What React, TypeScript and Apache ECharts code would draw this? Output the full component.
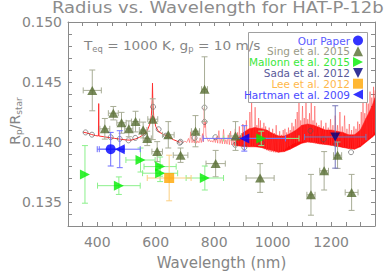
import React, { useEffect, useRef } from "react";
import * as echarts from "echarts";

// ---------- data ----------
const singWl = [383, 426, 455, 483, 508, 531, 557, 571, 590, 605, 643, 685, 736, 767, 805, 873, 957, 1131, 1176, 1222, 1270];
const singR = [0.1443, 0.1411, 0.1424, 0.1416, 0.1411, 0.1417, 0.1410, 0.1403, 0.1419, 0.1392, 0.1406, 0.1389, 0.1409, 0.1444, 0.1382, 0.1405, 0.1370, 0.1356, 0.1376, 0.1389, 0.1358];
const singWlErr = [31, 17, 17, 16, 14, 14, 13, 14, 17, 18, 20, 25, 14, 10, 33, 20, 48, 14, 15, 14, 22];
const singRErr = [0.0017, 0.00086, 0.00056, 0.00087, 0.00066, 0.00086, 0.00066, 0.0006, 0.0017, 0.00083, 0.0011, 0.0006, 0.0013, 0.0027, 0.0011, 0.0012, 0.0012, 0.0017, 0.0016, 0.0011, 0.0015];

const oursWl = [446];
const oursR = [0.1394];
const oursWlErr = [46];
const oursRErr = [0.0014];

const mallonnWl = [358, 474, 548, 615, 615, 768, 961];
const mallonnR = [0.1373, 0.13636, 0.1385, 0.13795, 0.1374, 0.1370, 0.1403];
const mallonnWlErr = [0, 73, 50, 55, 60, 64, 129];
const mallonnRErr = [0.0024, 0.00073, 0.001, 0.0008, 0.0007, 0.001, 0.0006];

const sadaWl = [1214];
const sadaR = [0.14042];
const sadaWlErr = [105];
const sadaRErr = [0.0026];

const leeWl = [646];
const leeR = [0.137];
const leeWlErr = [75];
const leeRErr = [0.0019];

const hartmanWl = [477, 903];
const hartmanR = [0.1394, 0.1403];
const hartmanWlErr = [70, 141];
const hartmanRErr = [0.00154, 0.00106];

// binned model (open circles)
const binWl = [360, 382, 446, 477, 507, 530, 559, 591, 610, 635, 682, 685, 733, 767, 767, 804, 872, 903, 963, 1129, 1174, 1217, 1268];
const binR = [0.1408, 0.14061, 0.1404, 0.14026, 0.14014, 0.14034, 0.14074, 0.14293, 0.14106, 0.14053, 0.13994, 0.14002, 0.14034, 0.14287, 0.14167, 0.1404, 0.13976, 0.13955, 0.13994, 0.14093, 0.14022, 0.13982, 0.13915];

// smooth model (short wavelengths)
const modelSmooth: [number, number][] = [
  [352, 0.14082], [365, 0.14075], [380, 0.14063], [395, 0.14053], [404, 0.1405], [405, 0.1432], [406, 0.1405],
  [420, 0.14045], [440, 0.14037], [460, 0.1403], [480, 0.14023], [500, 0.14017], [515, 0.14015], [530, 0.14025],
  [545, 0.1404], [560, 0.14065], [572, 0.141], [580, 0.1415], [585, 0.1422], [588, 0.1435], [589, 0.1449],
  [590, 0.1435], [593, 0.1422], [600, 0.1413], [610, 0.14085], [625, 0.14065], [640, 0.1405], [660, 0.1402], [682, 0.13998],
];

// high-resolution model spikes (long wavelengths)
const modelHiRes: [number, number][] = [
  [682, 0.13998], [688, 0.14005], [694, 0.13995], [700, 0.14008], [706, 0.13996], [712, 0.1403], [716, 0.13995], [720, 0.14085],
  [724, 0.13994], [728, 0.1402], [732, 0.13992], [736, 0.1406], [740, 0.1399], [744, 0.1401], [748, 0.13992], [752, 0.14035],
  [756, 0.13995], [760, 0.1407], [763, 0.14], [766, 0.14287], [768, 0.1412], [770, 0.14167], [772, 0.1405], [776, 0.1403],
  [780, 0.14005], [784, 0.1402], [788, 0.14], [792, 0.14012], [796, 0.13998], [800, 0.14025], [804, 0.13995], [808, 0.14045],
  [812, 0.1399], [816, 0.14095], [820, 0.13988], [824, 0.1403], [828, 0.13985], [832, 0.14105], [836, 0.13984], [840, 0.1402],
  [844, 0.13982], [848, 0.1406], [852, 0.13978], [856, 0.1409], [860, 0.13975], [864, 0.1404], [868, 0.13972], [872, 0.1411],
  [876, 0.1397], [880, 0.1408], [883, 0.13968], [886, 0.1413], [889, 0.13966], [892, 0.1406], [895, 0.13965], [898, 0.1415],
  [901, 0.13964], [904, 0.1409], [907, 0.13963], [910, 0.1418], [913, 0.13962], [916, 0.1411], [919, 0.13962], [922, 0.1425],
  [925, 0.13963], [928, 0.1433], [931, 0.13965], [934, 0.1412], [937, 0.13966], [940, 0.1429], [943, 0.13968], [946, 0.1414],
  [949, 0.13968], [952, 0.142], [955, 0.13965], [958, 0.1418], [961, 0.13958], [964, 0.1412], [967, 0.1395], [970, 0.1416],
  [973, 0.1394], [976, 0.1413], [979, 0.13932], [982, 0.1410], [985, 0.13925], [988, 0.1412], [991, 0.1392], [994, 0.1408],
  [997, 0.13917], [1000, 0.1411], [1003, 0.13915], [1006, 0.14075], [1009, 0.13913], [1012, 0.1414], [1015, 0.13913], [1018, 0.1406],
  [1021, 0.13915], [1024, 0.1409], [1027, 0.13918], [1030, 0.1406], [1033, 0.13925], [1036, 0.1410], [1039, 0.13935], [1042, 0.1411],
  [1045, 0.13945], [1048, 0.1408], [1051, 0.13955], [1054, 0.1412], [1057, 0.13965], [1060, 0.1410], [1063, 0.13975], [1066, 0.1416],
  [1069, 0.13985], [1072, 0.1413], [1075, 0.1399], [1078, 0.1419], [1081, 0.13995], [1084, 0.1425], [1087, 0.13998], [1090, 0.1437],
  [1093, 0.14], [1096, 0.1418], [1099, 0.14002], [1102, 0.143], [1105, 0.14003], [1108, 0.142], [1111, 0.14002], [1114, 0.1435],
  [1117, 0.14], [1120, 0.1419], [1123, 0.13998], [1126, 0.1424], [1129, 0.13995], [1132, 0.1433], [1135, 0.13992], [1138, 0.1418],
  [1141, 0.1399], [1144, 0.143], [1147, 0.13988], [1150, 0.1416], [1154, 0.13985], [1158, 0.1414], [1162, 0.13982], [1166, 0.1418],
  [1170, 0.1398], [1174, 0.1413], [1178, 0.13978], [1182, 0.1416], [1186, 0.13976], [1190, 0.1412], [1194, 0.13975], [1198, 0.1419],
  [1202, 0.13974], [1206, 0.1414], [1210, 0.13972], [1214, 0.1422], [1218, 0.1397], [1222, 0.1414], [1226, 0.13966], [1230, 0.1425],
  [1234, 0.13962], [1238, 0.1413], [1242, 0.13958], [1246, 0.1422], [1250, 0.13952], [1254, 0.1411], [1258, 0.13948], [1262, 0.1415],
  [1266, 0.13944], [1270, 0.1410], [1274, 0.13942], [1278, 0.1413], [1282, 0.13945], [1285, 0.1411], [1288, 0.13955], [1291, 0.1417],
  [1294, 0.13965], [1297, 0.1415], [1300, 0.13975], [1303, 0.1425], [1306, 0.13985], [1309, 0.1435], [1312, 0.13995], [1315, 0.1424],
  [1318, 0.14005], [1321, 0.1438], [1324, 0.14015], [1327, 0.1432], [1330, 0.1403], [1333, 0.1442], [1336, 0.14045], [1339, 0.1437],
  [1342, 0.1406], [1345, 0.1446], [1348, 0.1408], [1350, 0.1443],
];

// dense core of the high-resolution model: wavelength, lower and upper edge
const bandWl = [870, 885, 900, 920, 940, 960, 980, 1000, 1020, 1040, 1060, 1080, 1100, 1120, 1140, 1160, 1180, 1200, 1220, 1240, 1260, 1280, 1300, 1320, 1340, 1350];
const bandLow = [0.1397, 0.13967, 0.13962, 0.1396, 0.1396, 0.13955, 0.1394, 0.1393, 0.13915, 0.1392, 0.1394, 0.13965, 0.1399, 0.14, 0.13995, 0.13985, 0.1398, 0.13972, 0.13965, 0.13955, 0.13945, 0.1394, 0.1396, 0.14, 0.1404, 0.1406];
const bandHigh = [0.13995, 0.1404, 0.1408, 0.1411, 0.1412, 0.1411, 0.141, 0.1407, 0.1405, 0.1405, 0.1407, 0.141, 0.1414, 0.1415, 0.1414, 0.1412, 0.141, 0.141, 0.1409, 0.1408, 0.1406, 0.1406, 0.141, 0.142, 0.143, 0.1437];

const xTickLabels = [400, 600, 800, 1000, 1200];
const yTickLabels = [0.135, 0.14, 0.145, 0.15];

const FONT = "DejaVu Sans";
const GRAY = "#858585";

function pts(wl: number[], r: number[]) {
  return wl.map((w, i) => [w, r[i]]);
}
function errPts(wl: number[], r: number[], we: number[], re: number[]) {
  return wl.map((w, i) => [w, r[i], we[i], re[i]]);
}

function errSeries(data: number[][], color: string) {
  return {
    type: "custom",
    silent: true,
    clip: true,
    data,
    z: 3,
    renderItem: (params: any, api: any) => {
      const x = api.value(0), y = api.value(1), xe = api.value(2), ye = api.value(3);
      const c = api.coord([x, y]);
      const children: any[] = [];
      const st = { stroke: color, lineWidth: 1 };
      const cap = 3;
      if (ye > 0) {
        const t = api.coord([x, y + ye]);
        const b = api.coord([x, y - ye]);
        children.push({ type: "line", shape: { x1: c[0], y1: t[1], x2: c[0], y2: b[1] }, style: st });
        children.push({ type: "line", shape: { x1: c[0] - cap, y1: t[1], x2: c[0] + cap, y2: t[1] }, style: st });
        children.push({ type: "line", shape: { x1: c[0] - cap, y1: b[1], x2: c[0] + cap, y2: b[1] }, style: st });
      }
      if (xe > 0) {
        const l = api.coord([x - xe, y]);
        const r = api.coord([x + xe, y]);
        children.push({ type: "line", shape: { x1: l[0], y1: c[1], x2: r[0], y2: c[1] }, style: st });
        children.push({ type: "line", shape: { x1: l[0], y1: c[1] - cap, x2: l[0], y2: c[1] + cap }, style: st });
        children.push({ type: "line", shape: { x1: r[0], y1: c[1] - cap, x2: r[0], y2: c[1] + cap }, style: st });
      }
      return { type: "group", children };
    },
  };
}

const legendRows = [
  { name: "Our Paper", color: "#5a5aff", icon: "circle" },
  { name: "Sing et al. 2015", color: "#9a9a86", icon: "triangle" },
  { name: "Mallonn et al. 2015", color: "#3be83b", icon: "path://M0,0 L10,5 L0,10 Z" },
  { name: "Sada et al. 2012", color: "#5a5a9a", icon: "path://M0,0 L10,0 L5,10 Z" },
  { name: "Lee et al. 2012", color: "#ffb84a", icon: "rect" },
  { name: "Hartman et al. 2009", color: "#4a4aff", icon: "path://M10,0 L0,5 L10,10 Z" },
];

export default function App() {
  const ref = useRef<HTMLDivElement>(null);
  useEffect(() => {
    if (!ref.current) return;
    const chart = echarts.init(ref.current, null, { renderer: "svg" });
    const sub = (s: number, pad: number) => ({ fontSize: s, fontFamily: FONT, fill: GRAY, padding: [pad, 0, 0, 0] });
    const axisCommon = {
      type: "value",
      axisLine: { show: true, lineStyle: { color: "#8a8a8a", width: 1 } },
      axisTick: { show: true, inside: true, length: 4, lineStyle: { color: "#8a8a8a" } },
      splitLine: { show: false },
    };
    const legends = legendRows.map((row, i) => ({
      data: [{ name: row.name, icon: row.icon }],
      right: 27,
      top: 35 + i * 10.8,
      orient: "vertical",
      align: "right",
      itemWidth: 10,
      itemHeight: 10,
      itemGap: 0,
      padding: 0,
      z: 10,
      selectedMode: false,
      textStyle: { color: row.color, fontSize: 10.5, fontFamily: FONT, lineHeight: 10, padding: [0, -2, 0, 0] },
    }));
    // band segments: [wl0, low0, high0, wl1, low1, high1]
    const bandSegs = bandWl.slice(0, -1).map((w, i) => [w, bandLow[i], bandHigh[i], bandWl[i + 1], bandLow[i + 1], bandHigh[i + 1]]);
    chart.setOption({
      animation: false,
      backgroundColor: "#ffffff",
      grid: { left: 68, right: 15, top: 22, bottom: 42 },
      legend: legends,
      xAxis: [
        {
          ...axisCommon,
          min: 300, max: 1350, interval: 50,
          position: "bottom",
          name: "Wavelength (nm)",
          nameLocation: "middle",
          nameGap: 29,
          nameTextStyle: { fontSize: 15, color: GRAY, fontFamily: FONT },
          axisLabel: {
            margin: 9, fontSize: 14, color: GRAY, fontFamily: FONT,
            formatter: (v: number) => (xTickLabels.indexOf(Math.round(v)) >= 0 ? String(Math.round(v)) : ""),
          },
        },
        {
          ...axisCommon,
          min: 300, max: 1350, interval: 50,
          position: "top",
          axisLabel: { show: false },
        },
      ],
      yAxis: [
        {
          ...axisCommon,
          min: 0.133, max: 0.15, interval: 0.001,
          position: "left",
          axisLabel: {
            margin: 6, fontSize: 14, color: GRAY, fontFamily: FONT,
            formatter: (v: number) => {
              const hit = yTickLabels.find((t) => Math.abs(t - v) < 1e-7);
              return hit !== undefined ? hit.toFixed(3) : "";
            },
          },
        },
        {
          ...axisCommon,
          min: 0.133, max: 0.15, interval: 0.001,
          position: "right",
          axisLabel: { show: false },
        },
      ],
      graphic: [
        {
          type: "text",
          z: 8,
          x: 52,
          y: 1,
          scaleX: 1.2,
          style: { text: "Radius vs. Wavelength for HAT-P-12b", fontSize: 15, fontFamily: FONT, fill: "#8c8c8c" },
        },
        {
          type: "rect",
          z: 8,
          shape: { x: 248.5, y: 32.5, width: 119, height: 70 },
          style: { fill: "#ffffff", stroke: "#a0a0a0", lineWidth: 1 },
        },
        {
          type: "text",
          z: 8,
          rotation: Math.PI / 2,
          x: 15,
          y: 121,
          style: {
            text: "{a|R}{b|p}{a|/R}{b|star}",
            textAlign: "center",
            textVerticalAlign: "middle",
            rich: { a: { fontSize: 14, fontFamily: FONT, fill: GRAY, lineHeight: 18 }, b: sub(9, 8) },
          },
        },
        {
          type: "text",
          z: 8,
          x: 84,
          y: 38,
          scaleX: 1.05,
          style: {
            text: "{a|T}{b|eq}{a| = 1000 K, g}{b|p}{a| = 10 m/s}",
            rich: { a: { fontSize: 13, fontFamily: FONT, fill: GRAY, lineHeight: 16 }, b: sub(8, 7) },
          },
        },
      ],
      series: [
        {
          type: "line", data: modelSmooth, symbol: "none", z: 1, silent: true,
          lineStyle: { color: "#ff3030", width: 1 },
        },
        {
          type: "line", data: modelHiRes, symbol: "none", z: 1, silent: true,
          lineStyle: { color: "#ff3030", width: 1, opacity: 0.45 },
        },
        {
          type: "custom", data: bandSegs, z: 1, silent: true, clip: true,
          renderItem: (params: any, api: any) => {
            const a = api.coord([api.value(0), api.value(1)]);
            const b = api.coord([api.value(0), api.value(2)]);
            const c = api.coord([api.value(3), api.value(5)]);
            const d = api.coord([api.value(3), api.value(4)]);
            return {
              type: "polygon",
              shape: { points: [a, b, c, d] },
              style: { fill: "#ff0a0a", stroke: "#ff0a0a", lineWidth: 0.5 },
            };
          },
        },
        {
          type: "scatter", data: pts(binWl, binR), symbol: "circle", symbolSize: 5, z: 2, silent: true,
          itemStyle: { color: "rgba(255,255,255,0)", borderColor: "#555555", borderWidth: 0.8 },
        },
        errSeries(errPts(singWl, singR, singWlErr, singRErr), "#a8ad96"),
        errSeries(errPts(mallonnWl, mallonnR, mallonnWlErr, mallonnRErr), "#8cf08c"),
        errSeries(errPts(leeWl, leeR, leeWlErr, leeRErr), "#fbcf80"),
        errSeries(errPts(oursWl, oursR, oursWlErr, oursRErr), "#6c6cff"),
        errSeries(errPts(hartmanWl, hartmanR, hartmanWlErr, hartmanRErr), "#7070ff"),
        errSeries(errPts(sadaWl, sadaR, sadaWlErr, sadaRErr), "#7777bb"),
        {
          name: "Sing et al. 2015", type: "scatter", data: pts(singWl, singR), symbol: "triangle", symbolSize: [10, 9], z: 4,
          itemStyle: { color: "#556b2f" },
        },
        {
          name: "Mallonn et al. 2015", type: "scatter", data: pts(mallonnWl, mallonnR), symbol: "triangle", symbolRotate: -90, symbolSize: [10, 10], z: 4,
          itemStyle: { color: "#00ee00" },
        },
        {
          name: "Lee et al. 2012", type: "scatter", data: pts(leeWl, leeR), symbol: "rect", symbolSize: 10, z: 4,
          itemStyle: { color: "#ffa500" },
        },
        {
          name: "Our Paper", type: "scatter", data: pts(oursWl, oursR), symbol: "circle", symbolSize: 10, z: 5,
          itemStyle: { color: "#0000ff" },
        },
        {
          name: "Hartman et al. 2009", type: "scatter", data: pts(hartmanWl, hartmanR), symbol: "triangle", symbolRotate: 90, symbolSize: [10, 10], z: 5,
          itemStyle: { color: "#0000ff" },
        },
        {
          name: "Sada et al. 2012", type: "scatter", data: pts(sadaWl, sadaR), symbol: "triangle", symbolRotate: 180, symbolSize: [10, 9], z: 5,
          itemStyle: { color: "#000080" },
        },
      ],
    });
    return () => chart.dispose();
  }, []);
  return <div ref={ref} style={{ width: 390, height: 275, position: "absolute", left: 0, top: 0 }} />;
}
